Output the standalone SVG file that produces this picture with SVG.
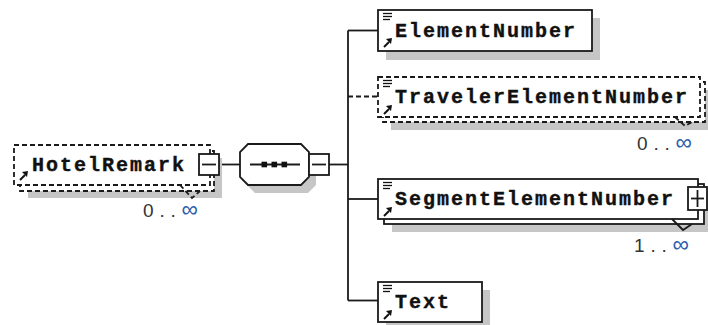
<svg xmlns="http://www.w3.org/2000/svg" xmlns:xlink="http://www.w3.org/1999/xlink" width="708" height="325" viewBox="0 0 708 325">
<style>
.box{fill:#fff;stroke:#1a1a1a;stroke-width:1.8}
.dash{fill:#fff;stroke:#1a1a1a;stroke-width:1.8;stroke-dasharray:5 3}
.shadow{fill:#c6c6c6;stroke:none}
.conn{fill:none;stroke:#1a1a1a;stroke-width:1.8}
.connd{fill:none;stroke:#1a1a1a;stroke-width:1.8;stroke-dasharray:5 3}
.name{font-family:"Liberation Mono","DejaVu Sans Mono",monospace;font-weight:bold;font-size:20px;letter-spacing:2px;fill:#111;stroke:#111;stroke-width:0.4}
.occ{font-family:"Liberation Sans","DejaVu Sans",sans-serif;font-size:19px;fill:#333}
.inf{fill:#2f5fae;font-size:23px}
</style>
<defs>
<g id="refArrow">
<path d="M1,9 L6,4" stroke="#111" stroke-width="2" fill="none"/>
<polygon points="9,0 3,1 8,6" fill="#111"/>
</g>
<g id="seqLines" stroke="#111" stroke-width="1.3">
<line x1="0" y1="0.5" x2="9" y2="0.5"/>
<line x1="0" y1="3.5" x2="9" y2="3.5"/>
<line x1="0" y1="6.5" x2="7" y2="6.5"/>
</g>
</defs>

<g id="connectors">
<line class="conn" x1="219" y1="164.5" x2="240" y2="164.5"/>
<line class="conn" x1="329" y1="164.5" x2="348" y2="164.5"/>
<line class="conn" x1="348" y1="30.5" x2="348" y2="300.5"/>
<line class="conn" x1="348" y1="30.5" x2="378" y2="30.5"/>
<line class="connd" x1="348" y1="96.5" x2="378" y2="96.5"/>
<line class="conn" x1="348" y1="199" x2="378" y2="199"/>
<line class="conn" x1="348" y1="300.5" x2="378" y2="300.5"/>
</g>

<g id="HotelRemark">
<rect class="shadow" x="28" y="158" width="194" height="40"/>
<rect class="dash" x="20" y="151" width="194" height="40"/>
<rect class="dash" x="14" y="145" width="196" height="40"/>
<path class="connd" d="M180,185 L192,198 L200,191"/>
<use xlink:href="#refArrow" x="19" y="171"/>
<text class="name" x="32" y="171">HotelRemark</text>
<rect class="box" x="199" y="154" width="20" height="21"/>
<line class="conn" x1="202" y1="164.5" x2="216" y2="164.5"/>
<text class="occ" x="143" y="217" textLength="55" lengthAdjust="spacing">0..<tspan class="inf">∞</tspan></text>
</g>

<g id="sequence">
<polygon class="shadow" points="255,152 308,152 316,160 316,185 308,193 255,193 247,185 247,160"/>
<polygon class="box" points="248,144 301,144 309,152 309,177 301,185 248,185 240,177 240,152"/>
<line class="conn" x1="250" y1="164.5" x2="300" y2="164.5"/>
<rect x="261.5" y="161.7" width="5.6" height="5.6" fill="#111"/>
<rect x="271.5" y="161.7" width="5.6" height="5.6" fill="#111"/>
<rect x="281.5" y="161.7" width="5.6" height="5.6" fill="#111"/>
<rect class="box" x="309" y="154" width="20" height="21"/>
<line class="conn" x1="312" y1="164.5" x2="326" y2="164.5"/>
</g>

<g id="ElementNumber">
<rect class="shadow" x="386" y="18" width="214" height="42"/>
<rect class="box" x="378" y="10" width="214" height="41"/>
<use xlink:href="#seqLines" x="383" y="13"/>
<use xlink:href="#refArrow" x="383" y="38"/>
<text class="name" x="395" y="37">ElementNumber</text>
</g>

<g id="TravelerElementNumber">
<rect class="shadow" x="391" y="90" width="322" height="40"/>
<rect class="dash" x="383" y="82" width="322" height="40"/>
<rect class="dash" x="378" y="77" width="322" height="40"/>
<path class="connd" d="M675,117 L685,126 L692,122"/>
<use xlink:href="#seqLines" x="383" y="80"/>
<use xlink:href="#refArrow" x="383" y="105"/>
<text class="name" x="395" y="103">TravelerElementNumber</text>
<text class="occ" x="637" y="150" textLength="55" lengthAdjust="spacing">0..<tspan class="inf">∞</tspan></text>
</g>

<g id="SegmentElementNumber">
<rect class="shadow" x="392" y="192" width="320" height="40"/>
<rect class="box" x="384" y="184" width="320" height="40"/>
<rect class="box" x="378" y="179" width="320" height="40"/>
<path class="conn" d="M672,219 L683,230 L692,224"/>
<use xlink:href="#seqLines" x="383" y="182"/>
<use xlink:href="#refArrow" x="383" y="207"/>
<text class="name" x="395" y="205">SegmentElementNumber</text>
<rect class="box" x="688" y="187" width="19" height="23"/>
<line class="conn" x1="691" y1="198.5" x2="704" y2="198.5"/>
<line class="conn" x1="697.5" y1="190" x2="697.5" y2="207"/>
<text class="occ" x="634" y="252" textLength="55" lengthAdjust="spacing">1..<tspan class="inf">∞</tspan></text>
</g>

<g id="Text">
<rect class="shadow" x="386" y="290" width="104" height="40"/>
<rect class="box" x="378" y="282" width="104" height="40"/>
<use xlink:href="#seqLines" x="383" y="285"/>
<use xlink:href="#refArrow" x="383" y="310"/>
<text class="name" x="395" y="308">Text</text>
</g>
</svg>
